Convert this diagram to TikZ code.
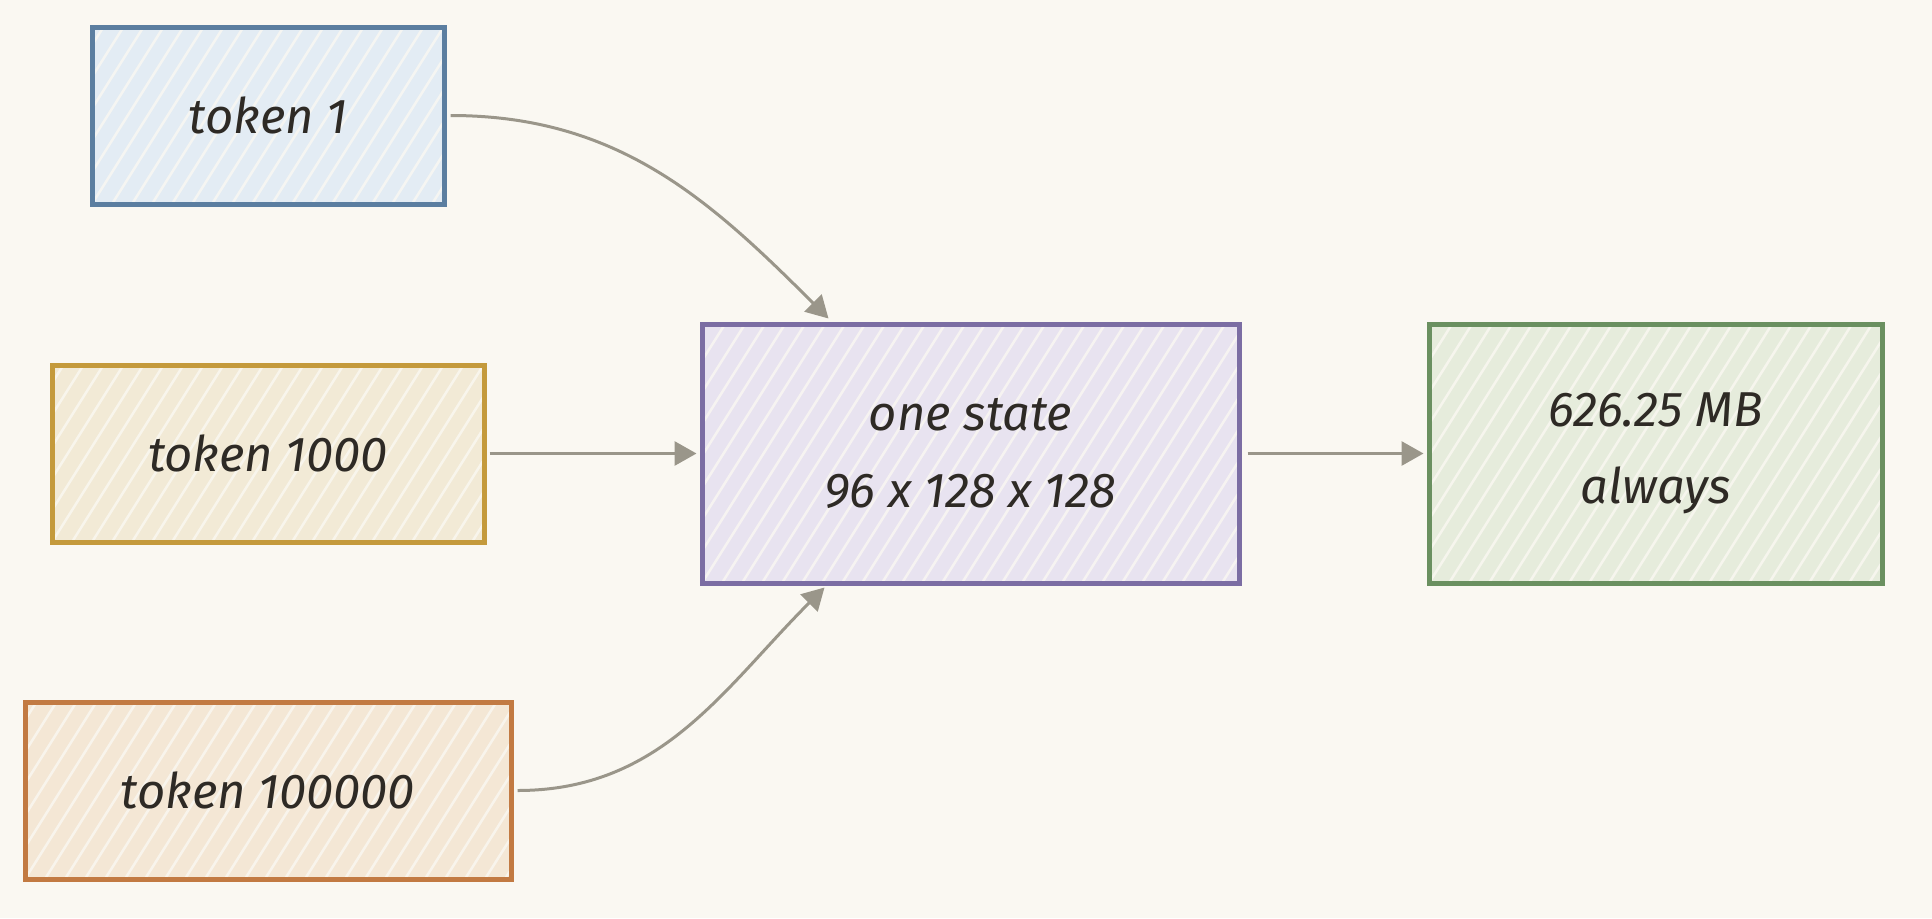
\documentclass[tikz,border=0pt]{standalone}
\usepackage{fontspec}
\setmainfont{Fira Sans}
\usetikzlibrary{arrows.meta,calc}

\definecolor{paper}{HTML}{FAF8F2}
\definecolor{ink}{HTML}{2E2A25}
\definecolor{wire}{HTML}{9A968A}
\definecolor{blueline}{HTML}{5B7EA0}
\definecolor{bluefill}{HTML}{E3ECF4}
\definecolor{goldline}{HTML}{C49A3C}
\definecolor{goldfill}{HTML}{F2EAD6}
\definecolor{rustline}{HTML}{C27A42}
\definecolor{rustfill}{HTML}{F4E7D5}
\definecolor{violetline}{HTML}{7B6DA3}
\definecolor{violetfill}{HTML}{E8E3F0}
\definecolor{greenline}{HTML}{6A9060}
\definecolor{greenfill}{HTML}{E6ECDC}

\tikzset{
  hatchline/.style={draw=paper, line width=2.5pt, opacity=.8},
  % white sketch strokes inside a box
  hatched/.style={path picture={
    \foreach \i in {-200,-180,...,560}
      \draw[hatchline] ([xshift=\i pt]path picture bounding box.south west) -- ++(170,-270);}},
  box/.style={draw, line width=5pt, minimum height=177pt, align=center, hatched,
    text=ink, font=\fontsize{49}{77}\selectfont\itshape},
  bigbox/.style={box, minimum height=259pt},
  link/.style={draw=wire, line width=3pt, -{Triangle[length=22pt,width=24pt]}},
}

\begin{document}
\begin{tikzpicture}[x=1pt,y=-1pt]
	\fill[paper] (0,0) rectangle (1932,918);
	\useasboundingbox (0,0) rectangle (1932,918);

	\node[box, draw=blueline, fill=bluefill, minimum width=352pt] (tokA) at (268,115.5) {token 1};
	\node[box, draw=goldline, fill=goldfill, minimum width=432pt] (tokB) at (268,453.5) {token 1000};
	\node[box, draw=rustline, fill=rustfill, minimum width=486pt] (tokC) at (268,790.5) {token 100000};
	\node[bigbox, draw=violetline, fill=violetfill, minimum width=537pt] (state) at (970.5,453.5) {one state\\96 x 128 x 128};
	\node[bigbox, draw=greenline, fill=greenfill, minimum width=453pt] (mem) at (1655.5,453.5) {626.25 MB\\always};

	\draw[link] ([xshift=4pt]tokA.east) to[out=0,in=135] ([xshift=-142pt,yshift=3pt]state.north);
	\draw[link] ([xshift=3pt]tokB.east) -- ([xshift=-3pt]state.west);
	\draw[link] ([xshift=4pt]tokC.east) to[out=0,in=-135] ([xshift=-146pt,yshift=-2pt]state.south);
	\draw[link] ([xshift=6pt]state.east) -- ([xshift=-3pt]mem.west);
\end{tikzpicture}
\end{document}
